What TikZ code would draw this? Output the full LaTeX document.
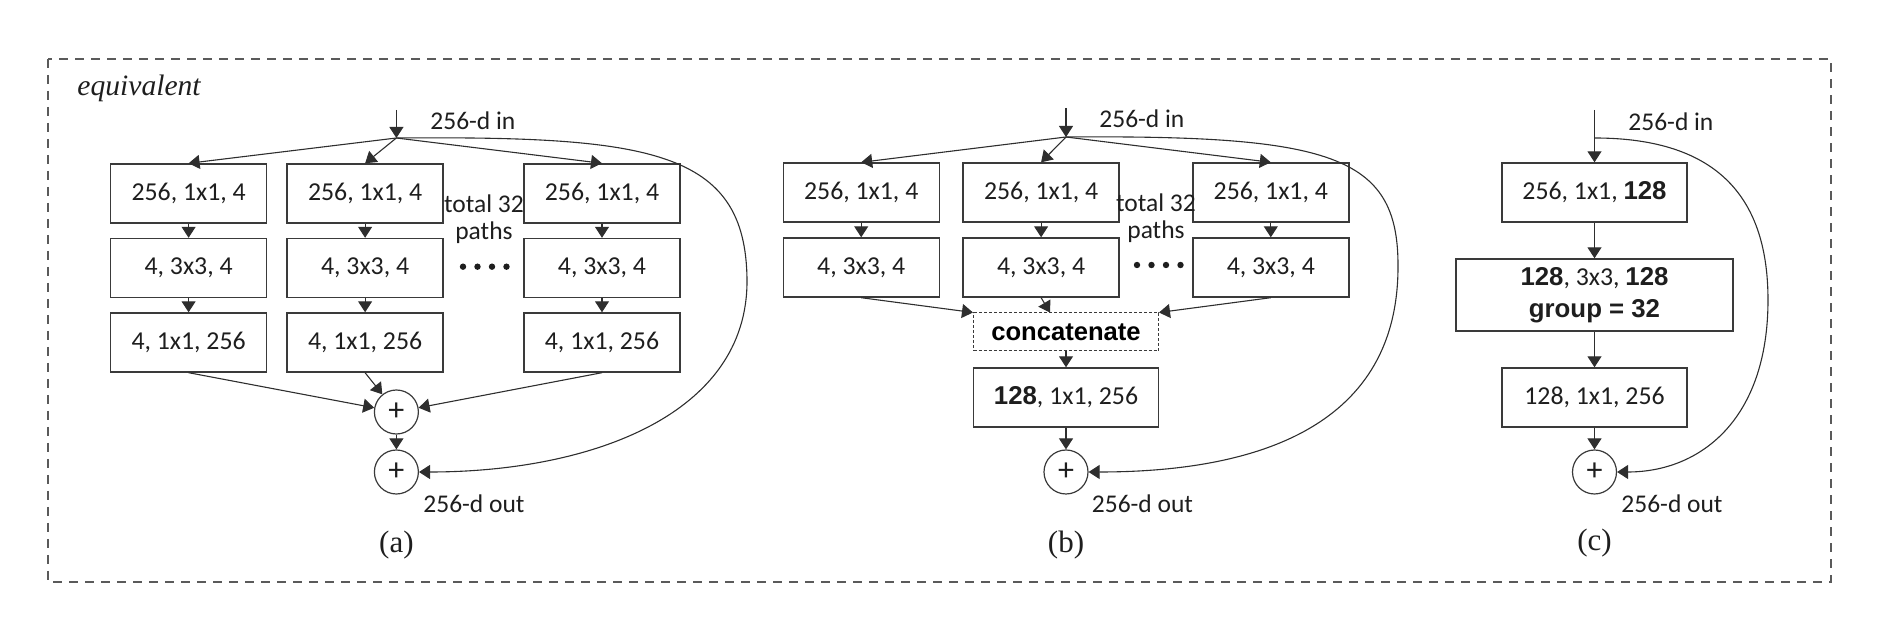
\documentclass[tikz,border=0pt]{standalone}
\usepackage{fontspec}
\usetikzlibrary{arrows.meta}
\newfontfamily\myr{Carlito}
\newfontfamily\arb{Liberation Sans}
\newfontfamily\tms{Liberation Serif}
\newcommand\bnum[1]{{\arb\bfseries #1}}
\definecolor{boxc}{HTML}{3A3A3A}
\definecolor{linec}{HTML}{2E2E2E}
\definecolor{txt}{HTML}{1E1E1E}
\definecolor{frame}{HTML}{5A5A5A}
\begin{document}
\begin{tikzpicture}[x=0.5pt,y=-0.5pt,
  lbl/.style={font=\myr\fontsize{12.75}{13.5}\selectfont, text=txt, inner sep=0pt, align=center},
  box/.style={draw=boxc, line width=0.7pt, inner sep=0pt, minimum width=78pt, minimum height=29.5pt,
    align=center, font=\myr\fontsize{12.9}{16}\selectfont, text=txt},
  wbox/.style={box, minimum width=92.5pt},
  arr/.style={draw=linec, line width=0.55pt, -{Triangle[width=7pt,length=5.5pt]}},
  plus/.style={circle, draw=boxc, line width=0.6pt, minimum size=22pt, inner sep=0pt,
    font=\myr\fontsize{16}{16}\selectfont, text=txt},
  captxt/.style={font=\tms\fontsize{15.5}{17}\selectfont, text=txt, inner sep=0pt},
  dot/.style={fill=txt}
]
\useasboundingbox (0,0) rectangle (1892,624);
% frame
\draw[frame, line width=0.7pt, dash pattern=on 4.5pt off 3.5pt] (48,59) rectangle (1831,582);
\node[captxt, anchor=west, font=\tms\itshape\fontsize{14.8}{16}\selectfont] (eq) at (77,88) {equivalent};

% ---------------- (a) ----------------
\coordinate (ain) at (396.4,110);
\coordinate (ja) at (396.4,138);
\node[lbl, anchor=west] (ainl) at (430,121) {256-d in};
\node[box] (a11) at (188.6,193.5) {256, 1x1, 4};
\node[box] (a12) at (365.1,193.5) {256, 1x1, 4};
\node[box] (a13) at (602,193.5) {256, 1x1, 4};
\node[box] (a21) at (188.6,268) {4, 3x3, 4};
\node[box] (a22) at (365.1,268) {4, 3x3, 4};
\node[box] (a23) at (602,268) {4, 3x3, 4};
\node[box] (a31) at (188.6,342.5) {4, 1x1, 256};
\node[box] (a32) at (365.1,342.5) {4, 1x1, 256};
\node[box] (a33) at (602,342.5) {4, 1x1, 256};
\node[lbl] (atot) at (484,219) {total 32\\paths};
\foreach \i in {0,1,2,3} \fill[dot] (463+\i*14.5,266.7) circle (1.6pt);
\node[plus] (pa1) at (396.4,412) {+};
\node[plus] (pa2) at (396.4,472) {+};
\node[lbl, anchor=west] (aoutl) at (423,504) {256-d out};
\node[captxt] (capa) at (396.4,545) {(a)};
\coordinate (acv) at (747,280);

\draw[arr] (ain) -- (ja);
\draw[arr] (ja) -- (a11.north);
\draw[arr] (ja) -- (a12.north);
\draw[arr] (ja) -- (a13.north);
\foreach \c in {1,2,3} {
  \draw[arr] (a1\c.south) -- (a2\c.north);
  \draw[arr] (a2\c.south) -- (a3\c.north);
}
\draw[arr] (a31.south) -- (pa1);
\draw[arr] (a32.south) -- (pa1);
\draw[arr] (a33.south) -- (pa1);
\draw[arr] (pa1) -- (pa2);
\draw[arr] (ja) .. controls (650,136) and (746,150) .. (acv)
  .. controls (748,415) and (590,472) .. (pa2.east);

% ---------------- (b) ----------------
\coordinate (bin) at (1066,108);
\coordinate (jb) at (1066,137);
\node[lbl, anchor=west] (binl) at (1099,119) {256-d in};
\node[box] (b11) at (861.2,192.5) {256, 1x1, 4};
\node[box] (b12) at (1041.1,192.5) {256, 1x1, 4};
\node[box] (b13) at (1270.8,192.5) {256, 1x1, 4};
\node[box] (b21) at (861.2,267.5) {4, 3x3, 4};
\node[box] (b22) at (1041.1,267.5) {4, 3x3, 4};
\node[box] (b23) at (1270.8,267.5) {4, 3x3, 4};
\node[lbl] (btot) at (1156,218) {total 32\\paths};
\foreach \i in {0,1,2,3} \fill[dot] (1137+\i*14.5,265) circle (1.6pt);
\node[draw=boxc, line width=0.5pt, dash pattern=on 1.5pt off 1pt, minimum width=92.5pt, minimum height=19pt,
  inner sep=0pt, font=\arb\bfseries\fontsize{12.8}{14}\selectfont, text=black] (cat) at (1066,332) {concatenate};
\node[wbox] (b3) at (1066,397.5) {\bnum{128}, 1x1, 256};
\node[plus] (pb) at (1066,472) {+};
\node[lbl, anchor=west] (boutl) at (1091.5,504) {256-d out};
\node[captxt] (capb) at (1066,545) {(b)};
\coordinate (bcv) at (1398,265);

\draw[arr] (bin) -- (jb);
\draw[arr] (jb) -- (b11.north);
\draw[arr] (jb) -- (b12.north);
\draw[arr] (jb) -- (b13.north);
\foreach \c in {1,2,3} \draw[arr] (b1\c.south) -- (b2\c.north);
\draw[arr] (b21.south) -- (cat.north west);
\draw[arr] (b22.south) -- ([xshift=-8pt]cat.north);
\draw[arr] (b23.south) -- (cat.north east);
\draw[arr] (cat.south) -- (b3.north);
\draw[arr] (b3.south) -- (pb.north);
\draw[arr] (jb) .. controls (1330,135) and (1398,155) .. (bcv)
  .. controls (1399,425) and (1260,472) .. (pb.east);

% ---------------- (c) ----------------
\coordinate (cin) at (1594.5,110);
\coordinate (jc) at (1594.5,138);
\node[lbl, anchor=west] (cinl) at (1628,122) {256-d in};
\node[wbox] (c1) at (1594.5,192.5) {256, 1x1, \bnum{128}};
\node[box, minimum width=138.5pt, minimum height=36pt] (c2) at (1594.5,295)
  {\bnum{128}, 3x3, \bnum{128}\\\bnum{group = 32}};
\node[wbox] (c3) at (1594.5,397.5) {128, 1x1, 256};
\node[plus] (pc) at (1594.5,472) {+};
\node[lbl, anchor=west] (coutl) at (1621,504) {256-d out};
\node[captxt] (capc) at (1594.5,543) {(c)};
\coordinate (ccv) at (1768,300);

\draw[arr] (cin) -- (c1.north);
\draw[arr] (c1.south) -- (c2.north);
\draw[arr] (c2.south) -- (c3.north);
\draw[arr] (c3.south) -- (pc.north);
\draw[arr] (jc) .. controls (1720,138) and (1768,200) .. (ccv)
  .. controls (1768,420) and (1700,472) .. (pc.east);
\end{tikzpicture}
\end{document}
